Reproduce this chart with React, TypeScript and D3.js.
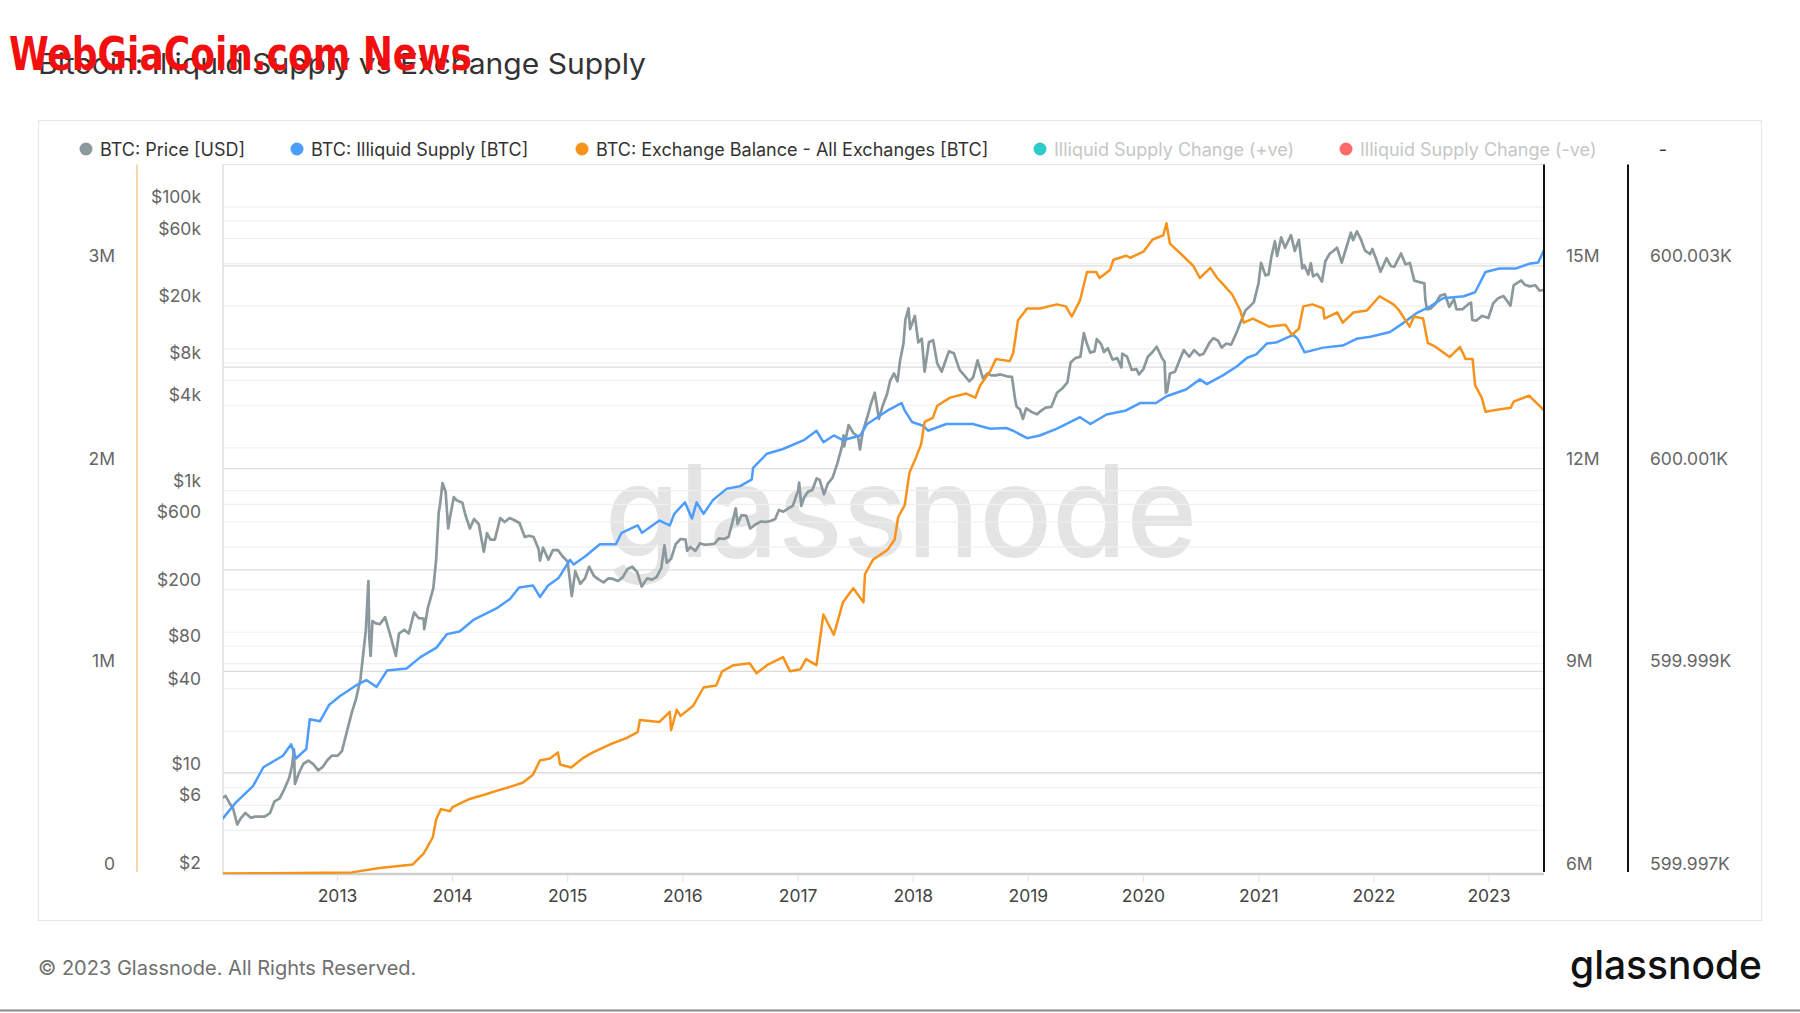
import React from "react";
import * as d3 from "d3";

type Pt = [string, number];

const TITLE = "Bitcoin: Illiquid Supply vs Exchange Supply";
const yearTicks = [2013, 2014, 2015, 2016, 2017, 2018, 2019, 2020, 2021, 2022, 2023];
const priceLabelTicks = [2, 6, 10, 40, 80, 200, 600, 1000, 4000, 8000, 20000, 60000, 100000];
const priceGridTicks = [4, 6, 8, 10, 20, 40, 60, 80, 100, 200, 400, 600, 800, 1000, 2000, 4000, 6000, 8000, 10000, 20000, 40000, 60000, 80000, 100000];
const balanceTicksM = [0, 1, 2, 3];
const balanceGridM = [0.5, 1, 1.5, 2, 2.5, 3];
const illiquidTicksM = [6, 9, 12, 15];
const changeTicks = [599997, 599999, 600001, 600003];

const legendItems = [
  { label: "BTC: Price [USD]", color: "#8b989c", active: true, x: 86 },
  { label: "BTC: Illiquid Supply [BTC]", color: "#4d9dff", active: true, x: 297 },
  { label: "BTC: Exchange Balance - All Exchanges [BTC]", color: "#f7931a", active: true, x: 582 },
  { label: "Illiquid Supply Change (+ve)", color: "#2ccaca", active: false, x: 1040 },
  { label: "Illiquid Supply Change (-ve)", color: "#ff6b6b", active: false, x: 1346 },
];

// BTC price, USD
const priceData: Pt[] = [
  ["2012-01-03", 6.8], ["2012-01-12", 7.0], ["2012-01-25", 6.2], ["2012-02-05", 5.7], ["2012-02-18", 4.4],
  ["2012-03-01", 4.9], ["2012-03-15", 5.3], ["2012-04-01", 4.9], ["2012-04-15", 5.0], ["2012-05-01", 5.0],
  ["2012-05-15", 5.0], ["2012-06-01", 5.3], ["2012-06-15", 6.4], ["2012-07-01", 6.7], ["2012-07-15", 7.7],
  ["2012-08-01", 9.4], ["2012-08-10", 11.5], ["2012-08-16", 15.0], ["2012-08-19", 8.5], ["2012-09-01", 10.2],
  ["2012-09-15", 11.8], ["2012-10-01", 12.4], ["2012-10-15", 11.8], ["2012-11-01", 10.6], ["2012-11-15", 11.2],
  ["2012-12-01", 12.6], ["2012-12-15", 13.5], ["2013-01-01", 13.4], ["2013-01-15", 14.5], ["2013-02-01", 20.4],
  ["2013-02-15", 27], ["2013-03-01", 34], ["2013-03-15", 47], ["2013-04-01", 104], ["2013-04-09", 230],
  ["2013-04-12", 90], ["2013-04-16", 68], ["2013-04-22", 120], ["2013-05-01", 116], ["2013-05-15", 114],
  ["2013-06-01", 128], ["2013-06-15", 100], ["2013-07-05", 68], ["2013-07-15", 98], ["2013-08-01", 104],
  ["2013-08-15", 98], ["2013-09-01", 138], ["2013-09-15", 126], ["2013-10-01", 125], ["2013-10-03", 105],
  ["2013-10-15", 150], ["2013-11-01", 205], ["2013-11-10", 330], ["2013-11-18", 700], ["2013-11-22", 790],
  ["2013-11-30", 1130], ["2013-12-05", 1050], ["2013-12-10", 980], ["2013-12-18", 540], ["2013-12-25", 670],
  ["2014-01-05", 900], ["2014-01-15", 850], ["2014-02-01", 820], ["2014-02-10", 680], ["2014-02-25", 540],
  ["2014-03-10", 630], ["2014-03-25", 580], ["2014-04-10", 370], ["2014-04-20", 500], ["2014-05-01", 450],
  ["2014-05-15", 450], ["2014-06-01", 640], ["2014-06-15", 600], ["2014-07-01", 640], ["2014-07-15", 620],
  ["2014-08-01", 590], ["2014-08-18", 470], ["2014-09-01", 480], ["2014-09-15", 470], ["2014-10-01", 385],
  ["2014-10-05", 320], ["2014-10-15", 395], ["2014-11-01", 325], ["2014-11-15", 380], ["2014-12-01", 380],
  ["2014-12-15", 345], ["2015-01-01", 315], ["2015-01-14", 180], ["2015-01-25", 270], ["2015-02-10", 220],
  ["2015-02-25", 240], ["2015-03-10", 290], ["2015-03-25", 250], ["2015-04-10", 235], ["2015-04-25", 225],
  ["2015-05-10", 240], ["2015-05-25", 238], ["2015-06-10", 230], ["2015-06-25", 245], ["2015-07-10", 280],
  ["2015-07-25", 290], ["2015-08-10", 265], ["2015-08-24", 210], ["2015-09-10", 240], ["2015-09-25", 235],
  ["2015-10-10", 245], ["2015-10-25", 285], ["2015-11-04", 410], ["2015-11-11", 310], ["2015-11-25", 330],
  ["2015-12-10", 420], ["2015-12-25", 455], ["2016-01-10", 450], ["2016-01-15", 375], ["2016-01-25", 400],
  ["2016-02-10", 375], ["2016-02-25", 425], ["2016-03-10", 415], ["2016-03-25", 417], ["2016-04-10", 420],
  ["2016-04-25", 460], ["2016-05-10", 455], ["2016-05-25", 470], ["2016-06-05", 580], ["2016-06-17", 750],
  ["2016-06-23", 580], ["2016-07-05", 670], ["2016-07-20", 665], ["2016-08-02", 540], ["2016-08-20", 580],
  ["2016-09-05", 605], ["2016-09-20", 600], ["2016-10-05", 610], ["2016-10-20", 630], ["2016-11-01", 730],
  ["2016-11-15", 710], ["2016-12-01", 750], ["2016-12-15", 780], ["2017-01-01", 1000], ["2017-01-04", 1140],
  ["2017-01-11", 780], ["2017-01-20", 895], ["2017-02-01", 980], ["2017-02-15", 1010], ["2017-03-01", 1220],
  ["2017-03-10", 1190], ["2017-03-24", 940], ["2017-04-05", 1120], ["2017-04-20", 1230], ["2017-05-05", 1550],
  ["2017-05-20", 2050], ["2017-05-25", 2450], ["2017-05-27", 2050], ["2017-06-10", 2900], ["2017-06-25", 2550],
  ["2017-07-10", 2400], ["2017-07-16", 1950], ["2017-07-25", 2600], ["2017-08-10", 3400], ["2017-08-20", 4100],
  ["2017-09-01", 4900], ["2017-09-14", 3200], ["2017-09-25", 3900], ["2017-10-10", 4800], ["2017-10-20", 6000],
  ["2017-11-01", 6700], ["2017-11-12", 5900], ["2017-11-20", 8200], ["2017-12-01", 10900], ["2017-12-07", 16000],
  ["2017-12-17", 19300], ["2017-12-22", 13800], ["2018-01-06", 17100], ["2018-01-17", 11100], ["2018-01-28", 11800],
  ["2018-02-06", 6900], ["2018-02-20", 11200], ["2018-03-05", 11500], ["2018-03-18", 7900], ["2018-04-01", 6900],
  ["2018-04-24", 9600], ["2018-05-10", 9300], ["2018-05-28", 7100], ["2018-06-12", 6500], ["2018-06-28", 5900],
  ["2018-07-10", 6300], ["2018-07-24", 8300], ["2018-08-10", 6200], ["2018-08-25", 6700], ["2018-09-05", 6500],
  ["2018-09-20", 6500], ["2018-10-05", 6600], ["2018-10-25", 6400], ["2018-11-10", 6350], ["2018-11-20", 4400],
  ["2018-11-25", 3900], ["2018-12-05", 3750], ["2018-12-15", 3200], ["2018-12-25", 3800], ["2019-01-10", 3600],
  ["2019-01-28", 3450], ["2019-02-10", 3650], ["2019-02-25", 3850], ["2019-03-15", 3900], ["2019-04-02", 4900],
  ["2019-04-20", 5300], ["2019-05-05", 5800], ["2019-05-15", 8000], ["2019-05-30", 8600], ["2019-06-15", 8800],
  ["2019-06-26", 12900], ["2019-07-05", 11000], ["2019-07-16", 9400], ["2019-07-30", 9600], ["2019-08-06", 11700],
  ["2019-08-20", 10800], ["2019-08-29", 9500], ["2019-09-10", 10100], ["2019-09-25", 8400], ["2019-10-10", 8600],
  ["2019-10-23", 7400], ["2019-10-26", 9250], ["2019-11-10", 8800], ["2019-11-25", 7100], ["2019-12-10", 7200],
  ["2019-12-18", 6600], ["2020-01-01", 7200], ["2020-01-15", 8800], ["2020-01-30", 9500], ["2020-02-12", 10350],
  ["2020-02-28", 8700], ["2020-03-08", 8100], ["2020-03-12", 4900], ["2020-03-16", 5000], ["2020-03-25", 6700],
  ["2020-04-10", 6900], ["2020-04-29", 8800], ["2020-05-08", 9800], ["2020-05-25", 8800], ["2020-06-10", 9800],
  ["2020-06-27", 9000], ["2020-07-10", 9250], ["2020-07-28", 11000], ["2020-08-10", 11900], ["2020-08-25", 11400],
  ["2020-09-05", 10200], ["2020-09-20", 10900], ["2020-10-05", 10700], ["2020-10-21", 12800], ["2020-11-05", 15600],
  ["2020-11-20", 18700], ["2020-12-01", 19700], ["2020-12-16", 21300], ["2020-12-31", 29000], ["2021-01-08", 40500],
  ["2021-01-22", 33000], ["2021-02-01", 33500], ["2021-02-10", 44800], ["2021-02-21", 57500], ["2021-02-28", 45200],
  ["2021-03-13", 61200], ["2021-03-25", 51700], ["2021-04-13", 63500], ["2021-04-25", 49000], ["2021-05-08", 58800],
  ["2021-05-19", 37000], ["2021-05-25", 38800], ["2021-06-07", 33500], ["2021-06-15", 40200], ["2021-06-22", 32500],
  ["2021-07-05", 33800], ["2021-07-20", 29800], ["2021-07-31", 41500], ["2021-08-14", 47100], ["2021-08-25", 49000],
  ["2021-09-06", 51800], ["2021-09-21", 40600], ["2021-10-05", 51500], ["2021-10-20", 66000], ["2021-10-27", 58500],
  ["2021-11-08", 67500], ["2021-11-20", 59800], ["2021-12-04", 49300], ["2021-12-20", 46700], ["2021-12-27", 50700],
  ["2022-01-10", 41800], ["2022-01-22", 35000], ["2022-02-10", 43600], ["2022-02-24", 38300], ["2022-03-07", 38000],
  ["2022-03-28", 47100], ["2022-04-11", 39500], ["2022-04-25", 40400], ["2022-05-09", 30300], ["2022-05-25", 29600],
  ["2022-06-10", 29000], ["2022-06-13", 22400], ["2022-06-18", 19000], ["2022-07-01", 19300], ["2022-07-15", 20800],
  ["2022-07-30", 23700], ["2022-08-14", 24300], ["2022-08-28", 19800], ["2022-09-12", 22400], ["2022-09-20", 19000],
  ["2022-10-10", 19100], ["2022-10-29", 20800], ["2022-11-05", 21200], ["2022-11-09", 16000], ["2022-11-21", 15800],
  ["2022-12-10", 17100], ["2022-12-30", 16500], ["2023-01-14", 20900], ["2023-01-30", 22800], ["2023-02-16", 23600],
  ["2023-03-10", 20200], ["2023-03-20", 28000], ["2023-04-13", 30400], ["2023-04-25", 28300], ["2023-05-10", 27600],
  ["2023-05-28", 28100], ["2023-06-10", 25800], ["2023-06-23", 26000],
];

// Illiquid supply, million BTC
const illiquidSupplyM: Pt[] = [
  ["2012-01-03", 6.82], ["2012-02-14", 7.06], ["2012-04-08", 7.30], ["2012-05-11", 7.58], ["2012-07-12", 7.75],
  ["2012-08-07", 7.92], ["2012-08-22", 7.71], ["2012-09-24", 7.85], ["2012-10-05", 8.29], ["2012-11-06", 8.26],
  ["2012-12-05", 8.50], ["2013-01-08", 8.63], ["2013-03-04", 8.80], ["2013-04-02", 8.87], ["2013-05-05", 8.77],
  ["2013-06-07", 9.01], ["2013-08-08", 9.04], ["2013-09-21", 9.21], ["2013-11-11", 9.35], ["2013-12-14", 9.55],
  ["2014-01-23", 9.59], ["2014-03-08", 9.76], ["2014-05-20", 9.93], ["2014-07-02", 10.07], ["2014-07-31", 10.24],
  ["2014-09-13", 10.27], ["2014-10-05", 10.10], ["2014-10-31", 10.27], ["2014-12-03", 10.38], ["2015-01-08", 10.65],
  ["2015-01-20", 10.58], ["2015-02-28", 10.71], ["2015-04-13", 10.88], ["2015-06-03", 10.88], ["2015-06-21", 11.05],
  ["2015-08-11", 11.16], ["2015-08-25", 11.05], ["2015-10-19", 11.23], ["2015-11-21", 11.16], ["2015-12-05", 11.33],
  ["2016-01-08", 11.50], ["2016-01-30", 11.26], ["2016-02-14", 11.50], ["2016-03-07", 11.33], ["2016-04-05", 11.53],
  ["2016-05-19", 11.70], ["2016-07-01", 11.74], ["2016-08-07", 11.84], ["2016-08-11", 12.01], ["2016-09-24", 12.22],
  ["2016-11-14", 12.29], ["2017-01-19", 12.42], ["2017-02-28", 12.56], ["2017-03-22", 12.39], ["2017-04-24", 12.49],
  ["2017-05-23", 12.42], ["2017-07-17", 12.49], ["2017-08-08", 12.66], ["2017-10-12", 12.86], ["2017-11-25", 12.97],
  ["2017-12-05", 12.86], ["2017-12-28", 12.69], ["2018-02-03", 12.63], ["2018-02-17", 12.56], ["2018-04-16", 12.66],
  ["2018-07-09", 12.66], ["2018-09-02", 12.59], ["2018-10-23", 12.60], ["2018-11-14", 12.56], ["2018-12-28", 12.45],
  ["2019-02-06", 12.49], ["2019-04-02", 12.59], ["2019-06-14", 12.76], ["2019-07-17", 12.66], ["2019-09-06", 12.80],
  ["2019-11-07", 12.86], ["2019-12-21", 12.97], ["2020-02-10", 12.97], ["2020-03-14", 13.07], ["2020-05-15", 13.17],
  ["2020-06-28", 13.32], ["2020-07-20", 13.25], ["2020-09-09", 13.38], ["2020-10-23", 13.51], ["2020-11-25", 13.64],
  ["2020-12-24", 13.69], ["2021-01-26", 13.85], ["2021-02-28", 13.87], ["2021-04-20", 13.98], ["2021-05-04", 13.92],
  ["2021-05-26", 13.72], ["2021-07-24", 13.79], ["2021-09-24", 13.82], ["2021-11-07", 13.92], ["2021-12-21", 13.95],
  ["2022-02-21", 14.02], ["2022-04-06", 14.16], ["2022-05-16", 14.30], ["2022-06-29", 14.40], ["2022-08-08", 14.52],
  ["2022-10-13", 14.55], ["2022-11-18", 14.61], ["2022-12-21", 14.91], ["2023-02-03", 14.96], ["2023-03-26", 14.96],
  ["2023-05-08", 15.03], ["2023-06-06", 15.05], ["2023-06-23", 15.22],
];

// Exchange balance, million BTC
const exchangeBalanceM: Pt[] = [
  ["2012-01-03", 0.002], ["2012-06-01", 0.004], ["2012-12-01", 0.006], ["2013-02-15", 0.008], ["2013-05-15", 0.03],
  ["2013-08-28", 0.047], ["2013-10-01", 0.10], ["2013-10-30", 0.18], ["2013-11-10", 0.27], ["2013-11-25", 0.32],
  ["2013-12-24", 0.31], ["2014-01-01", 0.33], ["2014-02-24", 0.37], ["2014-04-09", 0.39], ["2014-05-20", 0.41],
  ["2014-07-02", 0.43], ["2014-08-11", 0.45], ["2014-09-13", 0.49], ["2014-10-05", 0.56], ["2014-11-06", 0.57],
  ["2014-12-01", 0.60], ["2014-12-08", 0.54], ["2015-01-12", 0.525], ["2015-02-17", 0.57], ["2015-03-22", 0.60],
  ["2015-05-16", 0.64], ["2015-07-06", 0.67], ["2015-08-11", 0.70], ["2015-08-18", 0.76], ["2015-10-19", 0.75],
  ["2015-11-21", 0.80], ["2015-11-25", 0.71], ["2015-12-13", 0.81], ["2015-12-25", 0.78], ["2016-02-03", 0.83],
  ["2016-03-07", 0.92], ["2016-04-16", 0.93], ["2016-05-05", 1.00], ["2016-06-10", 1.03], ["2016-07-31", 1.04],
  ["2016-08-22", 0.99], ["2016-09-24", 1.03], ["2016-11-14", 1.07], ["2016-12-06", 1.00], ["2017-01-08", 1.01],
  ["2017-01-26", 1.06], ["2017-02-28", 1.03], ["2017-03-22", 1.28], ["2017-04-24", 1.18], ["2017-05-23", 1.34],
  ["2017-06-25", 1.41], ["2017-07-27", 1.34], ["2017-08-01", 1.48], ["2017-08-26", 1.55], ["2017-10-12", 1.60],
  ["2017-11-03", 1.65], ["2017-11-14", 1.76], ["2017-12-05", 1.82], ["2017-12-20", 1.98], ["2018-01-11", 2.06],
  ["2018-01-26", 2.12], ["2018-02-06", 2.23], ["2018-03-04", 2.25], ["2018-03-18", 2.31], ["2018-04-28", 2.35],
  ["2018-06-18", 2.37], ["2018-07-17", 2.35], ["2018-08-01", 2.41], ["2018-09-02", 2.48], ["2018-09-20", 2.54],
  ["2018-11-03", 2.53], ["2018-11-14", 2.57], ["2018-11-29", 2.73], ["2018-12-28", 2.79], ["2019-02-06", 2.79],
  ["2019-04-02", 2.81], ["2019-04-30", 2.80], ["2019-05-19", 2.75], ["2019-06-14", 2.83], ["2019-07-06", 2.97],
  ["2019-08-04", 2.97], ["2019-08-15", 2.94], ["2019-09-17", 2.98], ["2019-09-28", 3.03], ["2019-11-07", 3.05],
  ["2019-11-20", 3.04], ["2020-01-01", 3.07], ["2020-01-30", 3.13], ["2020-03-04", 3.15], ["2020-03-14", 3.21],
  ["2020-03-25", 3.11], ["2020-05-05", 3.05], ["2020-06-07", 3.00], ["2020-06-28", 2.94], ["2020-07-31", 2.99],
  ["2020-08-22", 2.94], ["2020-09-09", 2.91], ["2020-10-08", 2.86], ["2020-11-03", 2.78], ["2020-11-14", 2.72],
  ["2020-12-13", 2.74], ["2021-02-03", 2.70], ["2021-03-26", 2.71], ["2021-04-16", 2.66], ["2021-05-08", 2.69],
  ["2021-05-22", 2.80], ["2021-06-20", 2.81], ["2021-07-24", 2.79], ["2021-07-28", 2.74], ["2021-09-07", 2.77],
  ["2021-09-24", 2.72], ["2021-10-28", 2.77], ["2021-12-10", 2.78], ["2022-01-19", 2.85], ["2022-03-04", 2.81],
  ["2022-03-22", 2.78], ["2022-04-24", 2.70], ["2022-05-08", 2.75], ["2022-06-06", 2.74], ["2022-06-21", 2.62],
  ["2022-07-16", 2.60], ["2022-08-29", 2.55], ["2022-10-01", 2.60], ["2022-10-19", 2.54], ["2022-11-10", 2.54],
  ["2022-11-18", 2.41], ["2022-12-09", 2.35], ["2022-12-21", 2.28], ["2023-01-26", 2.29], ["2023-03-11", 2.30],
  ["2023-03-20", 2.33], ["2023-05-08", 2.36], ["2023-06-03", 2.32], ["2023-06-23", 2.29],
];

const FONT = "Inter, 'Noto Sans', 'DejaVu Sans', sans-serif";
const PL = 223, PR = 1544, PT = 164.5, PB = 874;
const AX = 17.5;

export default function App() {
  const parse = d3.utcParse("%Y-%m-%d");
  const x = d3.scaleUtc()
    .domain([new Date(Date.UTC(2013, 0, 1)), new Date(Date.UTC(2023, 0, 1))])
    .range([337.5, 1489]);
  const yPrice = d3.scaleLog().domain([2, 200000]).range([PB - 1, PT]);
  const yBal = d3.scaleLinear().domain([0, 3.5]).range([PB, PT]);
  const yIll = d3.scaleLinear().domain([6, 16.5]).range([PB, PT]);
  const yChg = d3.scaleLinear().domain([599997, 600004]).range([PB, PT]);

  const mk = (y: (v: number) => number) =>
    d3.line<Pt>().x((d) => x(parse(d[0]) as Date)).y((d) => y(d[1]));

  const pricePath = mk((v) => yPrice(v))(priceData) || "";
  const illPath = mk((v) => yIll(v))(illiquidSupplyM) || "";
  const balPath = mk((v) => yBal(v))(exchangeBalanceM) || "";

  const fmtPrice = (v: number) => (v >= 1000 ? `$${v / 1000}k` : `$${v}`);
  const labelColor = "#666";

  return (
    <svg width={1800} height={1013} style={{ position: "absolute", left: 0, top: 0, background: "#fff" }} fontFamily={FONT}>
      <rect x={0} y={0} width={1800} height={1013} fill="#fff" />
      {/* title + watermark */}
      <text x={38} y={74} fontSize={28} fill="#333" textLength={608} lengthAdjust="spacingAndGlyphs">{TITLE}</text>
      <text x={9} y={70} fontSize={46} fontWeight="bold" fill="#f20f0f" fontFamily="'Liberation Sans Narrow', 'DejaVu Sans Condensed', sans-serif" textLength={463} lengthAdjust="spacingAndGlyphs">WebGiaCoin.com News</text>

      {/* card */}
      <rect x={38.5} y={120.5} width={1723} height={800} fill="none" stroke="#e6e6e6" strokeWidth={1.2} />

      {/* legend */}
      {legendItems.map((it) => (
        <g key={it.label}>
          <circle cx={it.x} cy={149} r={6.5} fill={it.color} />
          <text x={it.x + 14} y={155.5} fontSize={18} fill={it.active ? "#333" : "#c6c6c6"}>{it.label}</text>
        </g>
      ))}
      <text x={1663} y={155.5} fontSize={18} fill="#333" textAnchor="middle">-</text>

      {/* center watermark */}
      <text x={605} y={557} fontSize={128} fontWeight={500} fill="#e4e4e4" textLength={592} lengthAdjust="spacingAndGlyphs">glassnode</text>

      {/* price grid */}
      {priceGridTicks.map((v) => (
        <line key={"pg" + v} x1={PL} x2={PR} y1={yPrice(v)} y2={yPrice(v)} stroke="#f0f0f0" strokeWidth={1.2} />
      ))}
      {/* balance grid */}
      {balanceGridM.map((v) => (
        <line key={"bg" + v} x1={PL} x2={PR} y1={yBal(v)} y2={yBal(v)} stroke="#dcdcdc" strokeWidth={1.2} />
      ))}
      {/* plot frame */}
      <line x1={PL} x2={PR} y1={PT} y2={PT} stroke="#e2e2e2" strokeWidth={1.2} />
      <line x1={PL} x2={PL} y1={PT} y2={PB} stroke="#d8d8d8" strokeWidth={1.2} />
      <line x1={PL} x2={PR} y1={PB} y2={PB} stroke="#cfcfcf" strokeWidth={2.5} />
      {/* x ticks */}
      {yearTicks.map((yr) => {
        const xx = x(new Date(Date.UTC(yr, 0, 1)));
        return (
          <g key={"yr" + yr}>
            <line x1={xx} x2={xx} y1={PB + 1} y2={PB + 8} stroke="#e6e6e6" strokeWidth={1.2} />
            <text x={xx} y={902} fontSize={AX} fill="#444" textAnchor="middle">{yr}</text>
          </g>
        );
      })}

      {/* series */}
      <defs>
        <clipPath id="plotclip">
          <rect x={PL} y={PT - 2} width={PR - PL} height={PB - PT + 2} />
        </clipPath>
      </defs>
      <g clipPath="url(#plotclip)" fill="none" strokeLinejoin="round" strokeLinecap="round">
        <path d={pricePath} stroke="#8b989c" strokeWidth={2.7} />
        <path d={illPath} stroke="#4d9dff" strokeWidth={2.5} />
        <path d={balPath} stroke="#f7931a" strokeWidth={2.5} />
      </g>

      {/* axis lines */}
      <line x1={137} x2={137} y1={PT} y2={PB - 2} stroke="#f6c890" strokeWidth={1.5} />
      <line x1={1544} x2={1544} y1={PT} y2={PB - 2} stroke="#111" strokeWidth={2} />
      <line x1={1628} x2={1628} y1={PT} y2={PB - 2} stroke="#111" strokeWidth={2} />

      {/* left balance axis labels */}
      {balanceTicksM.map((v) => (
        <text key={"bl" + v} x={115} y={yBal(v) - 4} fontSize={AX} fill={labelColor} textAnchor="end">{v === 0 ? "0" : `${v}M`}</text>
      ))}
      {/* price axis labels */}
      {priceLabelTicks.map((v) => (
        <text key={"pl" + v} x={201} y={yPrice(v) - 4} fontSize={AX} fill={labelColor} textAnchor="end">{fmtPrice(v)}</text>
      ))}
      {/* illiquid axis labels */}
      {illiquidTicksM.map((v) => (
        <text key={"il" + v} x={1566} y={yIll(v) - 4} fontSize={AX} fill={labelColor}>{`${v}M`}</text>
      ))}
      {/* change axis labels */}
      {changeTicks.map((v) => (
        <text key={"cl" + v} x={1650} y={yChg(v) - 4} fontSize={AX} fill={labelColor}>{`${(v / 1000).toFixed(3)}K`}</text>
      ))}

      {/* footer */}
      <text x={38} y={975} fontSize={20} fill="#707070">© 2023 Glassnode. All Rights Reserved.</text>
      <text x={1570} y={979} fontSize={40} fontWeight={500} fill="#111" textLength={192} lengthAdjust="spacingAndGlyphs">glassnode</text>
      <rect x={0} y={1009.5} width={1800} height={2} fill="#8a8a8a" />
    </svg>
  );
}
